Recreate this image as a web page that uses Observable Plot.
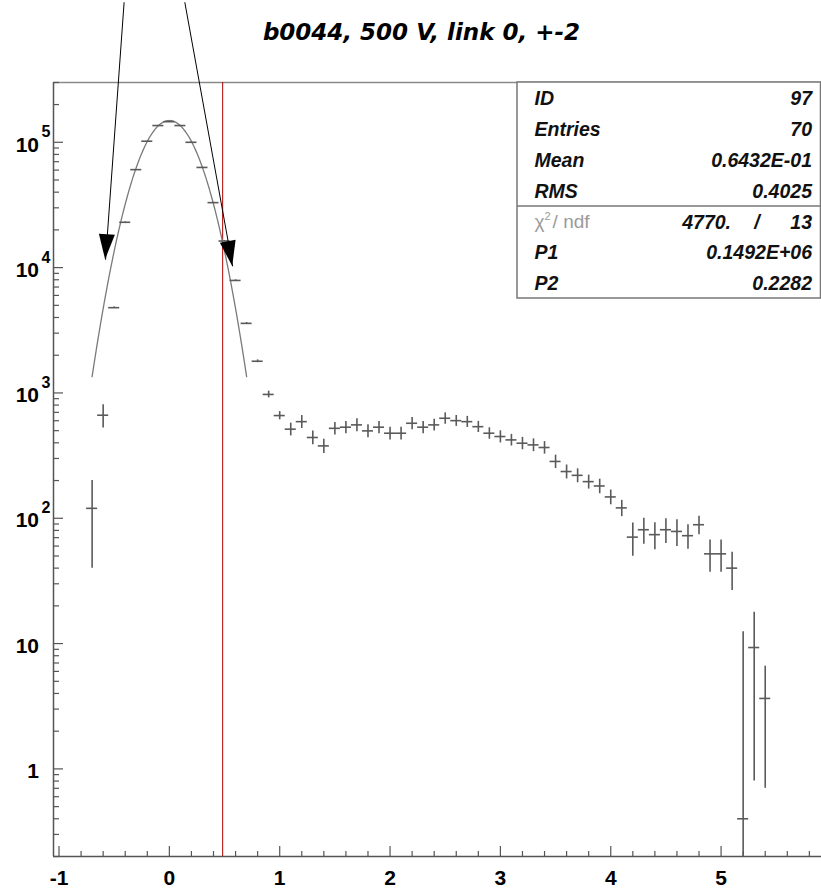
<!DOCTYPE html>
<html><head><meta charset="utf-8">
<script src="https://cdn.jsdelivr.net/npm/d3@7"></script>
<script src="https://cdn.jsdelivr.net/npm/@observablehq/plot@0.6"></script>
<style>body{margin:0;background:#fff} #chart{width:821px;height:888px}</style>
</head><body><div id="chart"></div>
<script>
// ---------- data ----------
const title = "b0044, 500 V, link 0, +-2";
const binWidth = 0.1;
const binCenters = [-0.7,-0.6,-0.5,-0.4,-0.3,-0.2,-0.1,0.0,0.1,0.2,0.3,0.4,0.5,0.6,0.7,0.8,0.9,1.0,
  1.1,1.2,1.3,1.4,1.5,1.6,1.7,1.8,1.9,2.0,2.1,2.2,2.3,2.4,2.5,2.6,2.7,2.8,2.9,3.0,
  3.1,3.2,3.3,3.4,3.5,3.6,3.7,3.8,3.9,4.0,4.1,4.2,4.3,4.4,4.5,4.6,4.7,4.8,4.9,5.0,
  5.1,5.2,5.3,5.4];
const counts = [120,664,4790,23000,60500,102000,136000,146000,136000,100000,63000,33000,16300,7900,3590,1790,973,660,
  514,590,441,378,522,533,556,498,533,477,477,573,533,556,628,601,590,538,477,449,
  422,397,385,367,284,236,220,196,181,148,121,70.7,81,74,81,78.5,72.6,88.8,52,52,
  40,0.40,9.3,3.65];
const errors = [80,140,70,150,250,320,370,380,370,320,250,180,130,90,60,45,60,50,
  60,70,55,50,60,60,65,60,60,55,55,65,60,60,65,60,60,55,50,50,
  45,45,45,42,35,30,28,25,24,20,18,21,19,18,18,19,16,15,15,15,
  13.5,12,8.5,2.95];
const fitP1 = 0.1492e6, fitP2 = 0.2282, fitRange = [-0.7, 0.7];
const cutX = 0.483;
const xTickValues = [-1,0,1,2,3,4,5];
const xTickLabels = ["-1","0","1","2","3","4","5"];
const yTickValues = [1,10,100,1000,10000,100000];
const yTickBase = ["1","10","10","10","10","10"];
const yTickExp = ["","","2","3","4","5"];
const statsLabels = ["ID","Entries","Mean","RMS"];
const statsValues = ["97","70","0.6432E-01","0.4025"];
const fitLabels = ["P1","P2"];
const fitValues = ["0.1492E+06","0.2282"];
const chi2Value = "4770.", ndfValue = "13";
const arrows = [
  {x1:-0.41, y1:1.31e6, x2:-0.578, y2:11560},
  {x1:0.14, y1:1.31e6, x2:0.574, y2:10230}
];

// ---------- derived ----------
const xDomain = [-1.05, 5.91], yDomain = [0.2, 3e5];
const W = 821, H = 888, mL = 53, mR = 0, mT = 82, mB = 32;
const frameW = W - mL - mR, frameH = H - mT - mB;
const bins = binCenters.map((x, i) => ({x, v: counts[i], err: errors[i]}));
const fitCurve = d3.range(fitRange[0], fitRange[1] + 1e-9, 0.005)
  .map(x => ({x, y: fitP1 * Math.exp(-x * x / (2 * fitP2 * fitP2))}));
const xMinor = d3.range(-1, 5.9, 0.2).map(v => Math.round(v * 10) / 10).filter(v => !xTickValues.includes(v));
const yMinor = [];
for (let e = -1; e <= 5; e++) for (let k = 2; k <= 9; k++) {
  const v = k * Math.pow(10, e);
  if (v >= yDomain[0] && v <= yDomain[1]) yMinor.push(v);
}
const font = "'Liberation Sans', Arial, Helvetica, sans-serif";
const grey = "#5a5a5a";

function arrowHeads(index, scales) {
  const g = d3.create("svg:g");
  for (const a of arrows) {
    const x1 = scales.x(a.x1), y1 = scales.y(a.y1), x2 = scales.x(a.x2), y2 = scales.y(a.y2);
    const ang = Math.atan2(y2 - y1, x2 - x1);
    const L = 25, hw = 8;
    const bx = x2 - L * Math.cos(ang), by = y2 - L * Math.sin(ang);
    const px = -Math.sin(ang) * hw, py = Math.cos(ang) * hw;
    g.append("path")
      .attr("d", `M${x2},${y2}L${bx + px},${by + py}L${bx - px},${by - py}Z`)
      .attr("fill", "black");
  }
  return g.node();
}

function statsBox(index, scales, values, dims) {
  const g = d3.create("svg:g").attr("font-family", font).attr("font-size", 19.5)
    .attr("font-weight", "bold").attr("font-style", "italic").attr("fill", "#111")
    .attr("text-anchor", "start");
  const R = dims.width - 0.5, L = R - 303.5, T = dims.marginTop, S = T + 124, B = S + 92;
  g.append("rect").attr("x", L).attr("y", T).attr("width", R - L).attr("height", B - T)
    .attr("fill", "white").attr("stroke", "#777").attr("stroke-width", 1.5);
  g.append("line").attr("x1", L).attr("x2", R).attr("y1", S).attr("y2", S)
    .attr("stroke", "#777").attr("stroke-width", 1.5);
  const tx = L + 17.5, vx = R - 8.5;
  const row = (x, y, txt, anchor) => g.append("text").attr("x", x).attr("y", y).attr("dy", "0.36em")
    .attr("text-anchor", anchor).text(txt);
  statsLabels.forEach((lab, i) => {
    const y = T + 15.5 + i * 31;
    row(tx, y, lab, "start");
    row(vx, y, statsValues[i], "end");
  });
  // chi2 row
  const yc = S + 15.5;
  const chi = g.append("text").attr("x", tx).attr("y", yc).attr("dy", "0.36em").attr("text-anchor", "start")
    .attr("fill", "#9a9a9a").attr("font-weight", "normal").attr("font-style", "normal").attr("font-size", 19);
  chi.append("tspan").text("χ");
  chi.append("tspan").attr("dy", -8).attr("font-size", 11).text("2");
  chi.append("tspan").attr("dy", 8).attr("dx", 2).text("/ ndf");
  row(vx - 81, yc, chi2Value, "end");
  row(vx - 55, yc, "/", "middle");
  row(vx, yc, ndfValue, "end");
  fitLabels.forEach((lab, i) => {
    const y = S + 15.5 + (i + 1) * 30.5;
    row(tx, y, lab, "start");
    row(vx, y, fitValues[i], "end");
  });
  return g.node();
}

const chart = Plot.plot({
  width: W, height: H,
  marginLeft: mL, marginRight: mR, marginTop: mT, marginBottom: mB,
  x: {domain: xDomain, axis: null},
  y: {type: "log", domain: yDomain, axis: null},
  style: {fontFamily: font, background: "white", overflow: "visible"},
  marks: [
    // frame lines
    Plot.ruleY([yDomain[1]], {stroke: "#8a8a8a", strokeWidth: 1.5}),
    Plot.ruleY([yDomain[0]], {stroke: "#555", strokeWidth: 1.5}),
    Plot.ruleX([xDomain[0]], {stroke: "#555", strokeWidth: 1.5}),
    // x ticks
    Plot.tickX(xMinor, {x: d => d, insetTop: frameH - 5, stroke: "#555", strokeWidth: 1.2}),
    Plot.tickX(xTickValues, {x: d => d, insetTop: frameH - 10, stroke: "#555", strokeWidth: 1.2}),
    // y ticks
    Plot.tickY(yMinor, {y: d => d, insetRight: frameW - 6, stroke: "#555", strokeWidth: 1.2}),
    Plot.tickY(yTickValues, {y: d => d, insetRight: frameW - 10, stroke: "#555", strokeWidth: 1.2}),
    // tick labels
    Plot.text(xTickValues, {x: d => d, text: (d, i) => xTickLabels[i], frameAnchor: "bottom",
      lineAnchor: "middle", dy: 22, fontSize: 21, fontWeight: "bold", fill: "black"}),
    Plot.text(yTickValues, {y: d => d, text: (d, i) => yTickBase[i], frameAnchor: "left",
      textAnchor: "end", lineAnchor: "middle", dx: -14.5, dy: 2.5, fontSize: 21, fontWeight: "bold", fill: "black"}),
    Plot.text(yTickValues, {y: d => d, text: (d, i) => yTickExp[i], frameAnchor: "left",
      textAnchor: "start", lineAnchor: "middle", dx: -12, dy: -10, fontSize: 16, fontWeight: "bold", fill: "black"}),
    // cut line
    Plot.ruleX([cutX], {stroke: "#b00000", strokeWidth: 1}),
    // fit curve
    Plot.line(fitCurve, {x: "x", y: "y", stroke: "#7a7a7a", strokeWidth: 1.3}),
    // histogram crosses
    Plot.ruleY(bins, {y: "v", x1: d => d.x - binWidth / 2, x2: d => d.x + binWidth / 2, stroke: grey, strokeWidth: 1.6}),
    Plot.ruleX(bins, {x: "x", y1: d => Math.max(d.v - d.err, yDomain[0]), y2: d => d.v + d.err, stroke: grey, strokeWidth: 1.6}),
    // annotation arrows
    Plot.link(arrows, {x1: "x1", y1: "y1", x2: "x2", y2: "y2", stroke: "black", strokeWidth: 1}),
    arrowHeads,
    // stats box
    statsBox,
    // title
    Plot.text([title], {frameAnchor: "top", dx: -16, dy: -50, lineAnchor: "middle",
      fontFamily: "'DejaVu Sans', sans-serif", fontWeight: "bold", fontStyle: "italic", fontSize: 23, fill: "black"})
  ]
});
document.getElementById("chart").appendChild(chart);
</script></body></html>
